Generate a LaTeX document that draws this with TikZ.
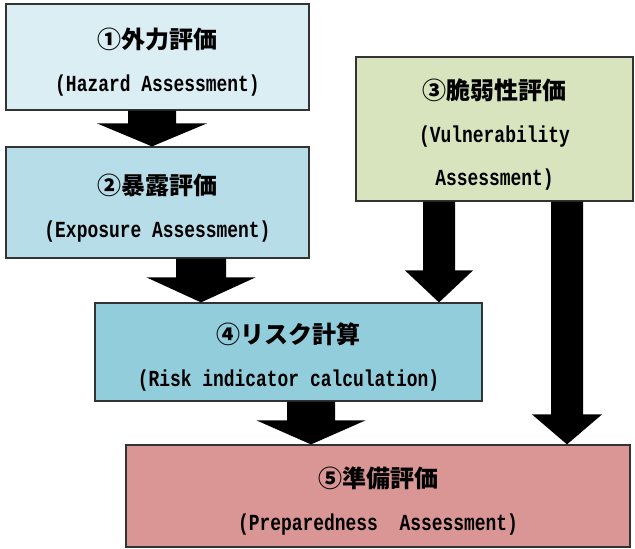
\documentclass[tikz,border=0pt]{standalone}
\usepackage{fontspec}
\usetikzlibrary{calc}
\newfontfamily\jpfont{Noto Sans CJK JP}
\newfontfamily\enfont[FakeStretch=0.78]{Liberation Mono}
\newcommand{\subtxt}{\enfont\fontsize{23}{42}\selectfont}
\newcommand{\topgap}{\rule{0pt}{31pt}}
\definecolor{hazardcol}{HTML}{DBEEF4}
\definecolor{exposurecol}{HTML}{B7DEE8}
\definecolor{vulncol}{HTML}{D7E4BD}
\definecolor{riskcol}{HTML}{92CDDC}
\definecolor{prepcol}{HTML}{D99694}
% block arrow: x, from node, to node, shaft half width, head half width, head length
\newcommand{\fatarrow}[6]{%
  \fill[arrowfill] let \p1=(#1,0 |- #2.south), \p2=(#1,0 |- #3.north) in
    (\x1-#4pt,\y1) -- (\x1-#4pt,\y2+#6pt) -- (\x1-#5pt,\y2+#6pt) -- (\x2,\y2)
    -- (\x1+#5pt,\y2+#6pt) -- (\x1+#4pt,\y2+#6pt) -- (\x1+#4pt,\y1) -- cycle;}
\begin{document}
\begin{tikzpicture}[x=1pt,y=-1pt,
  box/.style={draw=black!80,line width=1.2pt,align=center,inner sep=0pt,
    font=\jpfont\fontsize{24}{43}\selectfont\bfseries},
  arrowfill/.style={fill=black}]
\useasboundingbox (0,0) rectangle (635,549);
\node[box,fill=hazardcol,minimum width=303pt,minimum height=106pt] (hazard) at (157.5,57)
  {\topgap①外力評価\\{\subtxt (Hazard Assessment)}};
\node[box,fill=exposurecol,minimum width=303pt,minimum height=111pt] (exposure) at (157.5,202.5)
  {\topgap②暴露評価\\{\subtxt (Exposure Assessment)}};
\node[box,fill=vulncol,minimum width=277pt,minimum height=144pt] (vuln) at (494.5,129)
  {\topgap③脆弱性評価\\{\subtxt (Vulnerability}\\{\subtxt Assessment)}};
\node[box,fill=riskcol,minimum width=387pt,minimum height=98pt] (risk) at (288.5,352)
  {\topgap④リスク計算\\{\subtxt (Risk indicator calculation)}};
\node[box,fill=prepcol,minimum width=504pt,minimum height=102pt] (prep) at (378,496)
  {\topgap⑤準備評価\\{\subtxt (Preparedness\ \ Assessment)}};
% arrows
\fatarrow{152}{hazard}{exposure}{24}{55}{23}
\fatarrow{201}{exposure}{risk}{25}{54.5}{25}
\fatarrow{439}{vuln}{risk}{16}{34}{32}
\fatarrow{567}{vuln}{prep}{16}{35}{30}
\fatarrow{311}{risk}{prep}{24}{54.5}{24}
\end{tikzpicture}
\end{document}
